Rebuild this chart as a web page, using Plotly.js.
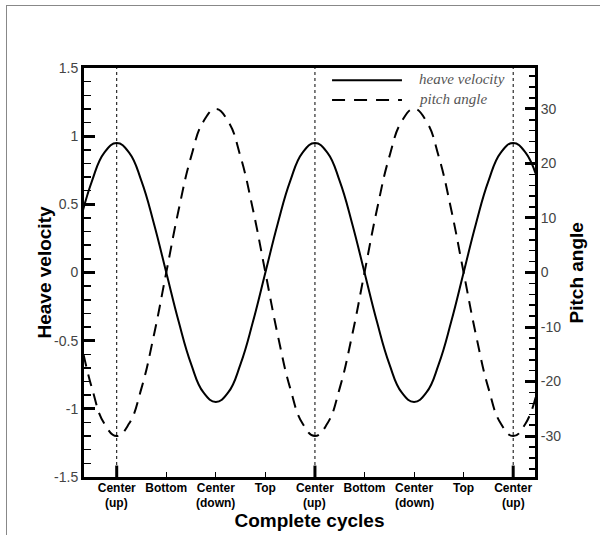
<!DOCTYPE html>
<html>
<head>
<meta charset="utf-8">
<script src="https://cdn.plot.ly/plotly-3.0.1.min.js"></script>
<style>
  html, body { margin: 0; padding: 0; background: #fff; }
  #frame { position: absolute; left: 6px; top: 5px; width: 600px; height: 540px;
           border-top: 1px solid #888; border-left: 1px solid #888; }
  #chart { position: absolute; left: 0; top: 0; width: 600px; height: 535px; }
</style>
</head>
<body>
<div id="frame"></div>
<div id="chart"></div>
<script>
// Phase in cycles (0 = Center (up)), read at 1/16-cycle steps
const phase = [-0.1875, -0.125, -0.0625,
  0, 0.0625, 0.125, 0.1875, 0.25, 0.3125, 0.375, 0.4375,
  0.5, 0.5625, 0.625, 0.6875, 0.75, 0.8125, 0.875, 0.9375,
  1, 1.0625, 1.125, 1.1875, 1.25, 1.3125, 1.375, 1.4375,
  1.5, 1.5625, 1.625, 1.6875, 1.75, 1.8125, 1.875, 1.9375,
  2, 2.0625, 2.125];
const heaveVelocity = [0.36, 0.67, 0.88,
  0.95, 0.88, 0.67, 0.36, 0, -0.36, -0.67, -0.88,
  -0.95, -0.88, -0.67, -0.36, 0, 0.36, 0.67, 0.88,
  0.95, 0.88, 0.67, 0.36, 0, -0.36, -0.67, -0.88,
  -0.95, -0.88, -0.67, -0.36, 0, 0.36, 0.67, 0.88,
  0.95, 0.88, 0.67];
const pitchAngle = [-11.5, -21.2, -27.7,
  -30, -27.7, -21.2, -11.5, 0, 11.5, 21.2, 27.7,
  30, 27.7, 21.2, 11.5, 0, -11.5, -21.2, -27.7,
  -30, -27.7, -21.2, -11.5, 0, 11.5, 21.2, 27.7,
  30, 27.7, 21.2, 11.5, 0, -11.5, -21.2, -27.7,
  -30, -27.7, -21.2];

const xTickVals = [0, 0.25, 0.5, 0.75, 1, 1.25, 1.5, 1.75, 2];
const xTickText = ['Center', 'Bottom', 'Center', 'Top', 'Center', 'Bottom', 'Center', 'Top', 'Center'];
const xTickSub = ['(up)', '', '(down)', '', '(up)', '', '(down)', '', '(up)'];
const centerUp = [0, 1, 2];
const leftTickVals = [-1.5, -1, -0.5, 0, 0.5, 1, 1.5];
const leftTickText = ['-1.5', '-1', '-0.5', '0', '0.5', '1', '1.5'];
const rightTickVals = [-30, -20, -10, 0, 10, 20, 30];
const rightTickText = ['-30', '-20', '-10', '0', '10', '20', '30'];
const seriesNames = ['heave velocity', 'pitch angle'];
const axisTitles = ['Complete cycles', 'Heave velocity', 'Pitch angle'];

const traces = [
  { x: phase, y: heaveVelocity, name: seriesNames[0], type: 'scatter', mode: 'lines',
    line: { color: '#000', width: 2, shape: 'spline', smoothing: 1.3 }, yaxis: 'y', showlegend: false },
  { x: phase, y: pitchAngle, name: seriesNames[1], type: 'scatter', mode: 'lines',
    line: { color: '#000', width: 2, shape: 'spline', smoothing: 1.3, dash: '12px,8px' }, yaxis: 'y2', showlegend: false }
];

const shapes = [];
centerUp.forEach(function (c) {
  shapes.push({ type: 'line', xref: 'x', yref: 'paper', x0: c, x1: c, y0: 0, y1: 1,
    line: { color: '#000', width: 1, dash: 'dot' }, layer: 'below' });
  shapes.push({ type: 'line', xref: 'x', yref: 'paper', x0: c, x1: c, y0: 0, y1: 0.028,
    line: { color: '#000', width: 3 } });
});
// legend samples
shapes.push({ type: 'line', xref: 'paper', yref: 'paper', x0: 0.550, x1: 0.705, y0: 0.970, y1: 0.970,
  line: { color: '#000', width: 2 } });
shapes.push({ type: 'line', xref: 'paper', yref: 'paper', x0: 0.550, x1: 0.705, y0: 0.922, y1: 0.922,
  line: { color: '#000', width: 2, dash: '13px,9px' } });

const legendFont = { family: 'Liberation Serif, Times New Roman, serif', size: 15, color: '#555' };
const titleFont = { family: 'Liberation Sans, Arial, sans-serif', size: 19, color: '#000', weight: 'bold' };
const annotations = [
  { xref: 'paper', yref: 'paper', x: 0.738, y: 0.973, xanchor: 'left', yanchor: 'middle',
    text: '<i>' + seriesNames[0] + '</i>', showarrow: false, font: legendFont },
  { xref: 'paper', yref: 'paper', x: 0.738, y: 0.924, xanchor: 'left', yanchor: 'middle',
    text: '<i>' + seriesNames[1] + '</i>', showarrow: false, font: legendFont },
  { xref: 'paper', yref: 'paper', x: -0.0865, y: 0.5, xanchor: 'center', yanchor: 'middle',
    textangle: -90, text: '<b>' + axisTitles[1] + '</b>', showarrow: false, font: titleFont },
  { xref: 'paper', yref: 'paper', x: 1.093, y: 0.5, xanchor: 'center', yanchor: 'middle',
    textangle: -90, text: '<b>' + axisTitles[2] + '</b>', showarrow: false, font: titleFont }
];
xTickVals.forEach(function (v, i) {
  if (xTickSub[i]) {
    annotations.push({ xref: 'x', yref: 'paper', x: v, y: -0.0636, xanchor: 'center', yanchor: 'middle',
      text: '<b>' + xTickSub[i] + '</b>', showarrow: false, borderpad: 0,
      font: { family: 'Liberation Sans, Arial, sans-serif', size: 12, color: '#000' } });
  }
});

const tickFont = { family: 'Liberation Sans, Arial, sans-serif', size: 14, color: '#444' };

const layout = {
  width: 600, height: 535,
  margin: { l: 84, r: 65, t: 68, b: 58, pad: 0 },
  paper_bgcolor: 'rgba(0,0,0,0)', plot_bgcolor: 'rgba(0,0,0,0)',
  showlegend: false,
  xaxis: {
    range: [-0.165, 2.11], tickmode: 'array', tickvals: xTickVals, ticktext: xTickText,
    ticks: 'inside', ticklen: 5, tickwidth: 1, tickcolor: '#000', ticklabelstandoff: -2,
    showline: true, linewidth: 3, linecolor: '#000', mirror: true,
    showgrid: false, zeroline: false,
    tickfont: { family: 'Liberation Sans, Arial, sans-serif', size: 12, color: '#000', weight: 'bold' },
    title: { text: '<b>' + axisTitles[0] + '</b>', font: titleFont, standoff: 20 }
  },
  yaxis: {
    range: [-1.5, 1.5], tickmode: 'array', tickvals: leftTickVals, ticktext: leftTickText,
    ticks: 'inside', ticklen: 11, tickwidth: 3, tickcolor: '#000',
    minor: { dtick: 0.1, ticks: 'inside', ticklen: 7, tickwidth: 1.5, tickcolor: '#000', showgrid: false },
    showline: true, linewidth: 3, linecolor: '#000',
    showgrid: false, zeroline: false, tickfont: tickFont
  },
  yaxis2: {
    range: [-37.5, 37.5], overlaying: 'y', side: 'right', tickmode: 'array',
    tickvals: rightTickVals, ticktext: rightTickText,
    ticks: 'inside', ticklen: 10, tickwidth: 3, tickcolor: '#000',
    minor: { dtick: 2, ticks: 'inside', ticklen: 6, tickwidth: 1.5, tickcolor: '#000', showgrid: false },
    showline: true, linewidth: 3, linecolor: '#000',
    showgrid: false, zeroline: false, tickfont: tickFont
  },
  shapes: shapes,
  annotations: annotations
};

Plotly.newPlot('chart', traces, layout, { displayModeBar: false, staticPlot: true });
</script>
</body>
</html>
